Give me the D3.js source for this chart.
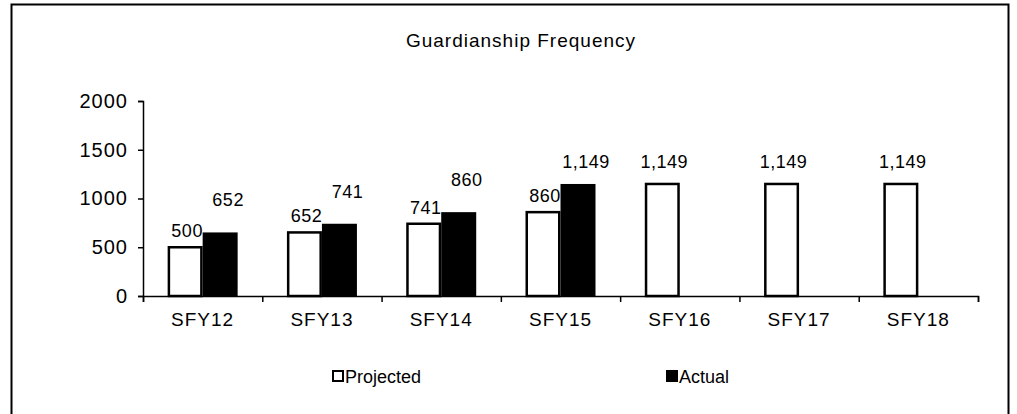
<!DOCTYPE html>
<html lang="en">
<head>
<meta charset="UTF-8">
<title>Guardianship Frequency</title>
<script src="https://d3js.org/d3.v7.min.js"></script>
<style>
  body { margin: 0; background: #fff; }
  text { font-family: "Liberation Sans", Arial, sans-serif; fill: #000; }
</style>
</head>
<body>
<svg id="chart" width="1017" height="414"></svg>
<script>
// data
var categories = ['SFY12', 'SFY13', 'SFY14', 'SFY15', 'SFY16', 'SFY17', 'SFY18'];
var projected = [500, 652, 741, 860, 1149, 1149, 1149];
var actual = [652, 741, 860, 1149, null, null, null];
var seriesNames = ['Projected', 'Actual'];
var yTicks = [0, 500, 1000, 1500, 2000];

var svg = d3.select('#chart');

// frame (no bottom edge in the scan)
svg.append('path')
    .attr('d', 'M11.5,414 V4.5 H1008.5 V414')
    .attr('fill', 'none')
    .attr('stroke', '#000')
    .attr('stroke-width', 2);

// title
svg.append('text')
    .attr('x', 521).attr('y', 47)
    .attr('text-anchor', 'middle')
    .style('font-size', '19px')
    .style('letter-spacing', '1px')
    .text('Guardianship Frequency');

// scales
var x = d3.scaleBand().domain(categories).range([143, 978]);
var xs = d3.scaleBand().domain(seriesNames)
    .range([x.bandwidth() / 2 - 35, x.bandwidth() / 2 + 35]);
var y = d3.scaleLinear().domain([0, 2000]).range([296, 101]);
var fmt = d3.format(',');

// y axis
var yAxis = d3.axisLeft(y).tickValues(yTicks).tickFormat(d3.format('d'))
    .tickSize(5).tickPadding(10);
var gy = svg.append('g').attr('transform', 'translate(143,0)').call(yAxis);
gy.selectAll('text').style('font-size', '20px').style('letter-spacing', '1px');
gy.selectAll('path, line').attr('stroke', '#000').attr('stroke-width', 1.5);

// x axis: boundary ticks + labels
var xEdge = d3.scaleLinear().domain([0, categories.length]).range([143, 978]);
var gx = svg.append('g').attr('transform', 'translate(0,296)')
    .call(d3.axisBottom(xEdge).ticks(categories.length).tickSize(6).tickSizeOuter(6).tickFormat(''));
gx.selectAll('path, line').attr('stroke', '#000').attr('stroke-width', 1.5);

var gl = svg.append('g').attr('transform', 'translate(0,296)')
    .call(d3.axisBottom(x).tickSize(0).tickPadding(17));
gl.select('.domain').remove();
gl.selectAll('text').style('font-size', '19px').style('letter-spacing', '1px');

// bars
var groups = svg.append('g').selectAll('g')
    .data(categories)
    .enter().append('g')
    .attr('transform', function (d) { return 'translate(' + x(d) + ',0)'; });

groups.append('rect')
    .attr('x', function () { return xs('Projected') + 1.25; })
    .attr('y', function (d, i) { return y(projected[i]); })
    .attr('width', xs.bandwidth() - 2.5)
    .attr('height', function (d, i) { return y(0) - y(projected[i]); })
    .attr('fill', '#fff')
    .attr('stroke', '#000')
    .attr('stroke-width', 2.5);

groups.filter(function (d, i) { return actual[i] != null; })
    .append('rect')
    .attr('x', xs('Actual'))
    .attr('y', function (d) { return y(actual[categories.indexOf(d)]); })
    .attr('width', xs.bandwidth())
    .attr('height', function (d) { return y(0) - y(actual[categories.indexOf(d)]); })
    .attr('fill', '#000');

// value labels
groups.append('text')
    .attr('x', xs('Projected') + xs.bandwidth() / 2 + 2)
    .attr('y', function (d, i) { return y(projected[i]) - (projected[i] > 1000 ? 16 : 10); })
    .attr('text-anchor', 'middle')
    .style('font-size', '18px')
    .style('letter-spacing', '0.5px')
    .text(function (d, i) { return fmt(projected[i]); });

groups.filter(function (d, i) { return actual[i] != null; })
    .append('text')
    .attr('x', xs('Actual') + xs.bandwidth() / 2 + 8)
    .attr('y', function (d) { var v = actual[categories.indexOf(d)]; return y(v) - (v > 1000 ? 16 : 26); })
    .attr('text-anchor', 'middle')
    .style('font-size', '18px')
    .style('letter-spacing', '0.5px')
    .text(function (d) { return fmt(actual[categories.indexOf(d)]); });

// legend
var legendX = [333, 667];
var lg = svg.append('g').selectAll('g')
    .data(seriesNames)
    .enter().append('g')
    .attr('transform', function (d, i) { return 'translate(' + legendX[i] + ',377)'; });
lg.append('rect')
    .attr('x', 0).attr('y', -6)
    .attr('width', 10).attr('height', 10)
    .attr('fill', function (d, i) { return i === 0 ? '#fff' : '#000'; })
    .attr('stroke', '#000')
    .attr('stroke-width', 2);
lg.append('text')
    .attr('x', 12).attr('y', 6)
    .style('font-size', '18px')
    .text(function (d) { return d; });
</script>
</body>
</html>
